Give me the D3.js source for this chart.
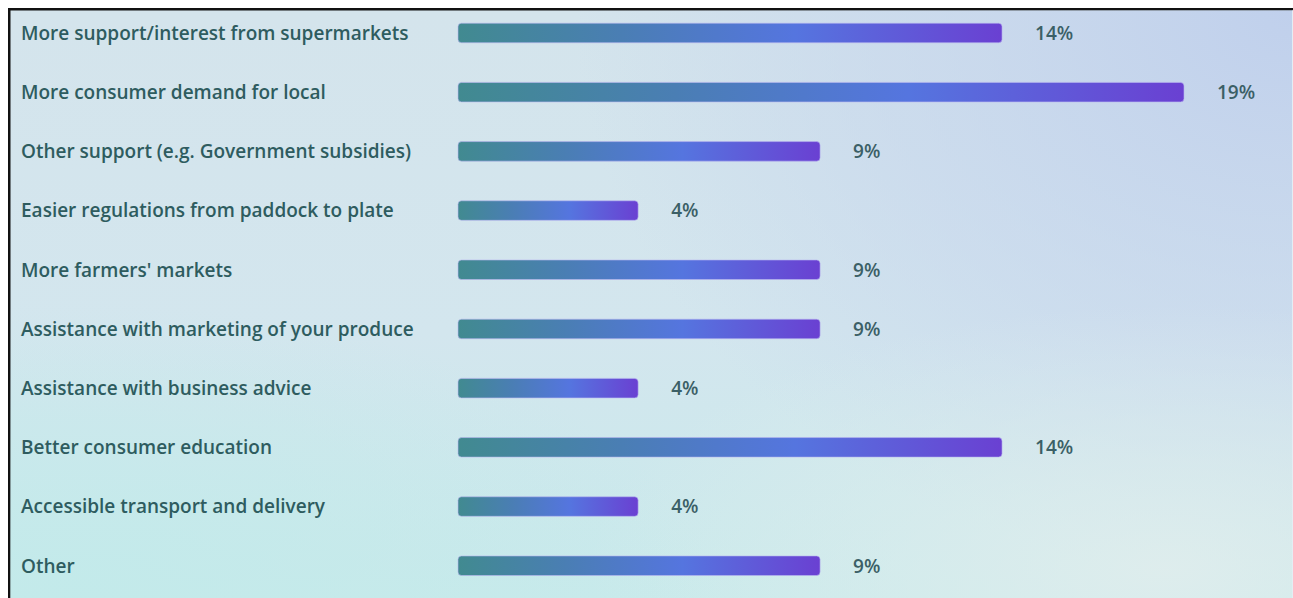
<!DOCTYPE html>
<html>
<head>
<meta charset="utf-8">
<script src="https://cdn.jsdelivr.net/npm/d3@7"></script>
<style>
  html, body { margin: 0; padding: 0; background: #ffffff; }
  svg { display: block; }
</style>
</head>
<body>
<svg id="chart" width="1293" height="598"></svg>
<script>
// Survey responses: what would help sell more produce locally
const categories = [
  "More support/interest from supermarkets",
  "More consumer demand for local",
  "Other support (e.g. Government subsidies)",
  "Easier regulations from paddock to plate",
  "More farmers' markets",
  "Assistance with marketing of your produce",
  "Assistance with business advice",
  "Better consumer education",
  "Accessible transport and delivery",
  "Other"
];
const values = [14, 19, 9, 4, 9, 9, 4, 14, 4, 9];
const valueLabels = ["14%", "19%", "9%", "4%", "9%", "9%", "4%", "14%", "4%", "9%"];

const W = 1293, H = 598;
const svg = d3.select("#chart");
const defs = svg.append("defs");

// Panel background gradients
const bgBase = defs.append("linearGradient").attr("id", "bgBase")
  .attr("x1", 0).attr("y1", 0).attr("x2", 0).attr("y2", 1);
bgBase.append("stop").attr("offset", "0%").attr("stop-color", "#d4e4ec");
bgBase.append("stop").attr("offset", "55%").attr("stop-color", "#d3e6ee");
bgBase.append("stop").attr("offset", "100%").attr("stop-color", "#c8eaeb");

const bgTR = defs.append("radialGradient").attr("id", "bgTR")
  .attr("cx", 1).attr("cy", 0).attr("r", 0.7)
  .attr("gradientTransform", "translate(1,0) scale(0.8,1.4) translate(-1,0)");
bgTR.append("stop").attr("offset", "0%").attr("stop-color", "#c0d0ec").attr("stop-opacity", 1);
bgTR.append("stop").attr("offset", "60%").attr("stop-color", "#c6d5ed").attr("stop-opacity", 0.55);
bgTR.append("stop").attr("offset", "100%").attr("stop-color", "#c6d5ed").attr("stop-opacity", 0);

const bgBR = defs.append("radialGradient").attr("id", "bgBR")
  .attr("cx", 0.9).attr("cy", 0.95).attr("r", 0.45);
bgBR.append("stop").attr("offset", "0%").attr("stop-color", "#e0eded").attr("stop-opacity", 0.9);
bgBR.append("stop").attr("offset", "100%").attr("stop-color", "#e0eded").attr("stop-opacity", 0);

const bgBL = defs.append("radialGradient").attr("id", "bgBL")
  .attr("cx", 0.05).attr("cy", 1).attr("r", 0.5);
bgBL.append("stop").attr("offset", "0%").attr("stop-color", "#c2eaea").attr("stop-opacity", 0.9);
bgBL.append("stop").attr("offset", "100%").attr("stop-color", "#c2eaea").attr("stop-opacity", 0);

// Bar fill: teal -> blue -> violet
const barGrad = defs.append("linearGradient").attr("id", "barGrad")
  .attr("x1", 0).attr("y1", 0).attr("x2", 1).attr("y2", 0);
barGrad.append("stop").attr("offset", "0%").attr("stop-color", "#418a90");
barGrad.append("stop").attr("offset", "30%").attr("stop-color", "#4a7eb4");
barGrad.append("stop").attr("offset", "62%").attr("stop-color", "#5575df");
barGrad.append("stop").attr("offset", "100%").attr("stop-color", "#6a40d2");

// Frame: black edge on top and left
svg.append("rect").attr("x", 8).attr("y", 8).attr("width", W - 8).attr("height", H - 8)
  .attr("fill", "#111");
const panel = { x: 10.5, y: 10.5, w: W - 10.5, h: H - 10.5 };
["bgBase", "bgTR", "bgBR", "bgBL"].forEach(id => {
  svg.append("rect").attr("x", panel.x).attr("y", panel.y)
    .attr("width", panel.w).attr("height", panel.h)
    .attr("fill", `url(#${id})`);
});
svg.append("rect").attr("x", W - 1).attr("y", 10.5).attr("width", 1).attr("height", H)
  .attr("fill", "#e4edf3");

// Scales
const x = d3.scaleLinear().domain([-0.95, 19]).range([458, 1184]);
const y = d3.scaleBand().domain(categories).range([23.2, 575.5]).paddingInner(0.67).paddingOuter(0);

const rows = svg.append("g").selectAll("g").data(categories).join("g")
  .attr("transform", d => `translate(0,${y(d)})`);

const bh = y.bandwidth();
const font = "'Open Sans', 'Noto Sans', sans-serif";

rows.append("rect")
  .attr("x", x(-0.95))
  .attr("y", 0)
  .attr("width", (d, i) => x(values[i]) - x(-0.95))
  .attr("height", bh)
  .attr("rx", 3.5)
  .attr("fill", "url(#barGrad)")
  .attr("stroke", "#b9b6f0")
  .attr("stroke-opacity", 0.6)
  .attr("stroke-width", 1);

rows.append("text")
  .attr("x", 21)
  .attr("y", bh / 2)
  .attr("dy", "0.36em")
  .attr("font-family", font)
  .attr("font-size", 19)
  .attr("font-weight", 600)
  .attr("fill", "#2e5c5f")
  .text(d => d);

rows.append("text")
  .attr("x", (d, i) => x(values[i]) + 33)
  .attr("y", bh / 2)
  .attr("dy", "0.36em")
  .attr("font-family", font)
  .attr("font-size", 19)
  .attr("font-weight", 600)
  .attr("fill", "#3b5f66")
  .text((d, i) => valueLabels[i]);
</script>
</body>
</html>
